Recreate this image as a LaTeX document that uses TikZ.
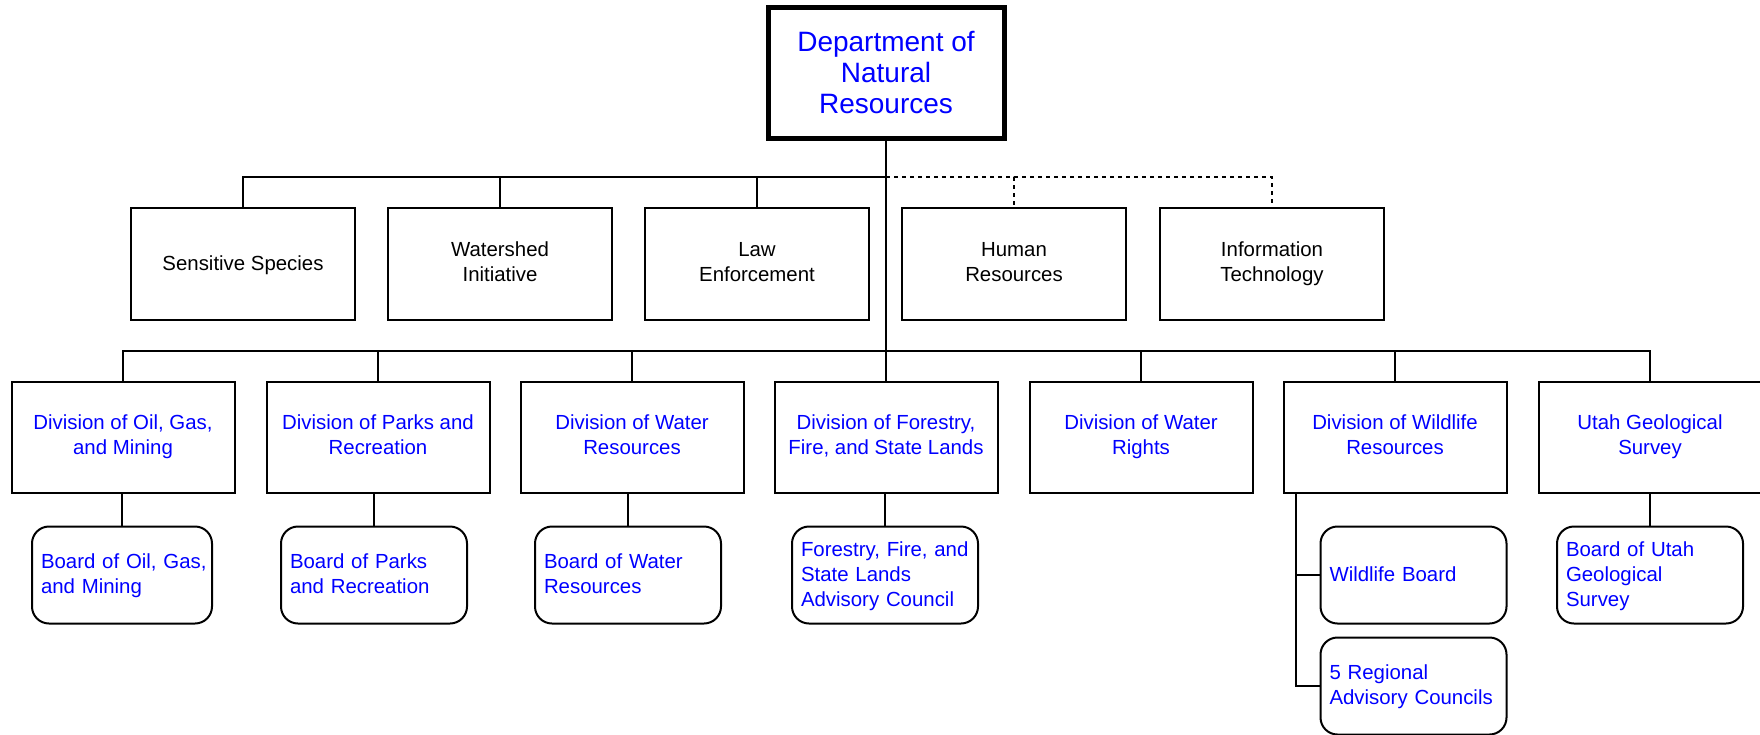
\documentclass[tikz,border=0pt]{standalone}
\usepackage{fontspec}
\setmainfont{Liberation Sans}
\usepackage{xcolor}
\usepackage{tikz}

\newcommand\lnstrut{\rule[-2.45pt]{0pt}{11.2pt}}

\tikzset{
  head/.style={draw,line width=2.5pt,minimum width=118pt,minimum height=65.5pt,
    align=center,text=blue,font=\fontsize{14}{15.5}\selectfont},
  office/.style={draw,line width=1pt,minimum width=112pt,minimum height=56pt,
    align=center,font=\fontsize{10.2}{12.5}\selectfont,
    execute at begin node=\lnstrut,execute at end node=\lnstrut},
  division/.style={office,text=blue,minimum width=111.5pt,minimum height=55.5pt},
  board/.style={draw,line width=1pt,rounded corners=8.5pt,minimum height=48.5pt,
    text width=84pt,inner xsep=4.5pt,align=left,text=blue,
    font=\fontsize{10.2}{12.5}\selectfont,
    execute at begin node=\lnstrut,execute at end node=\lnstrut},
  link/.style={line width=0.9pt},
  dotlink/.style={link,dash pattern=on 2pt off 2pt},
}

\begin{document}
\begin{tikzpicture}[x=0.5pt,y=-0.5pt]
\useasboundingbox (0,0) rectangle (1760,734);

% Department
\node[head] (dnr) at (886,72.5) {Department of\\Natural\\Resources};

% Staff offices
\node[office] (sens) at (243,264) {Sensitive Species};
\node[office] (wsi) at (500,264) {Watershed\\Initiative};
\node[office] (law) at (757,264) {Law\\Enforcement};
\node[office] (hr) at (1014,264) {Human\\Resources};
\node[office] (it) at (1272,264) {Information\\Technology};

% Divisions
\node[division] (ogm) at (123,437.5) {Division of Oil, Gas,\\and Mining};
\node[division] (parks) at (378,437.5) {Division of Parks and\\Recreation};
\node[division] (wres) at (632,437.5) {Division of Water\\Resources};
\node[division] (ffsl) at (886,437.5) {Division of Forestry,\\Fire, and State Lands};
\node[division] (wrights) at (1141,437.5) {Division of Water\\Rights};
\node[division] (wild) at (1395,437.5) {Division of Wildlife\\Resources};
\node[division] (ugs) at (1650,437.5) {Utah Geological\\Survey};

% Boards and councils
\node[board,text width=81pt] (bogm) at (122,575) {\mbox{Board of Oil, Gas,}\\and Mining};
\node[board] (bparks) at (374,575) {Board of Parks\\and Recreation};
\node[board] (bwres) at (628,575) {Board of Water\\Resources};
\node[board] (ffslac) at (885,575) {Forestry, Fire, and\\State Lands\\Advisory Council};
\node[board] (wboard) at (1413.5,575) {Wildlife Board};
\node[board] (rac) at (1413.5,686) {5 Regional\\Advisory Councils};
\node[board] (bugs) at (1650,575) {Board of Utah\\Geological\\Survey};

% Buses
\coordinate (bus1) at (886,177);
\coordinate (bus2) at (886,351);
\coordinate (wspine) at (1296,493);

\draw[link] (dnr.south) -- (bus2);
\foreach \n in {sens,wsi,law}
  \draw[link] (bus1) -| (\n.north);
\foreach \n in {hr,it}
  \draw[dotlink] (bus1) -| (\n.north);
\foreach \n in {ogm,parks,wres,ffsl,wrights,wild,ugs}
  \draw[link] (bus2) -| (\n.north);

% Divisions to boards
\draw[link] (bogm.north) -- (bogm.north |- ogm.south);
\draw[link] (bparks.north) -- (bparks.north |- parks.south);
\draw[link] (bwres.north) -- (bwres.north |- wres.south);
\draw[link] (ffslac.north) -- (ffslac.north |- ffsl.south);
\draw[link] (bugs.north) -- (bugs.north |- ugs.south);
\draw[link] (wspine) |- (wboard.west);
\draw[link] (wspine) |- (rac.west);
\end{tikzpicture}
\end{document}
